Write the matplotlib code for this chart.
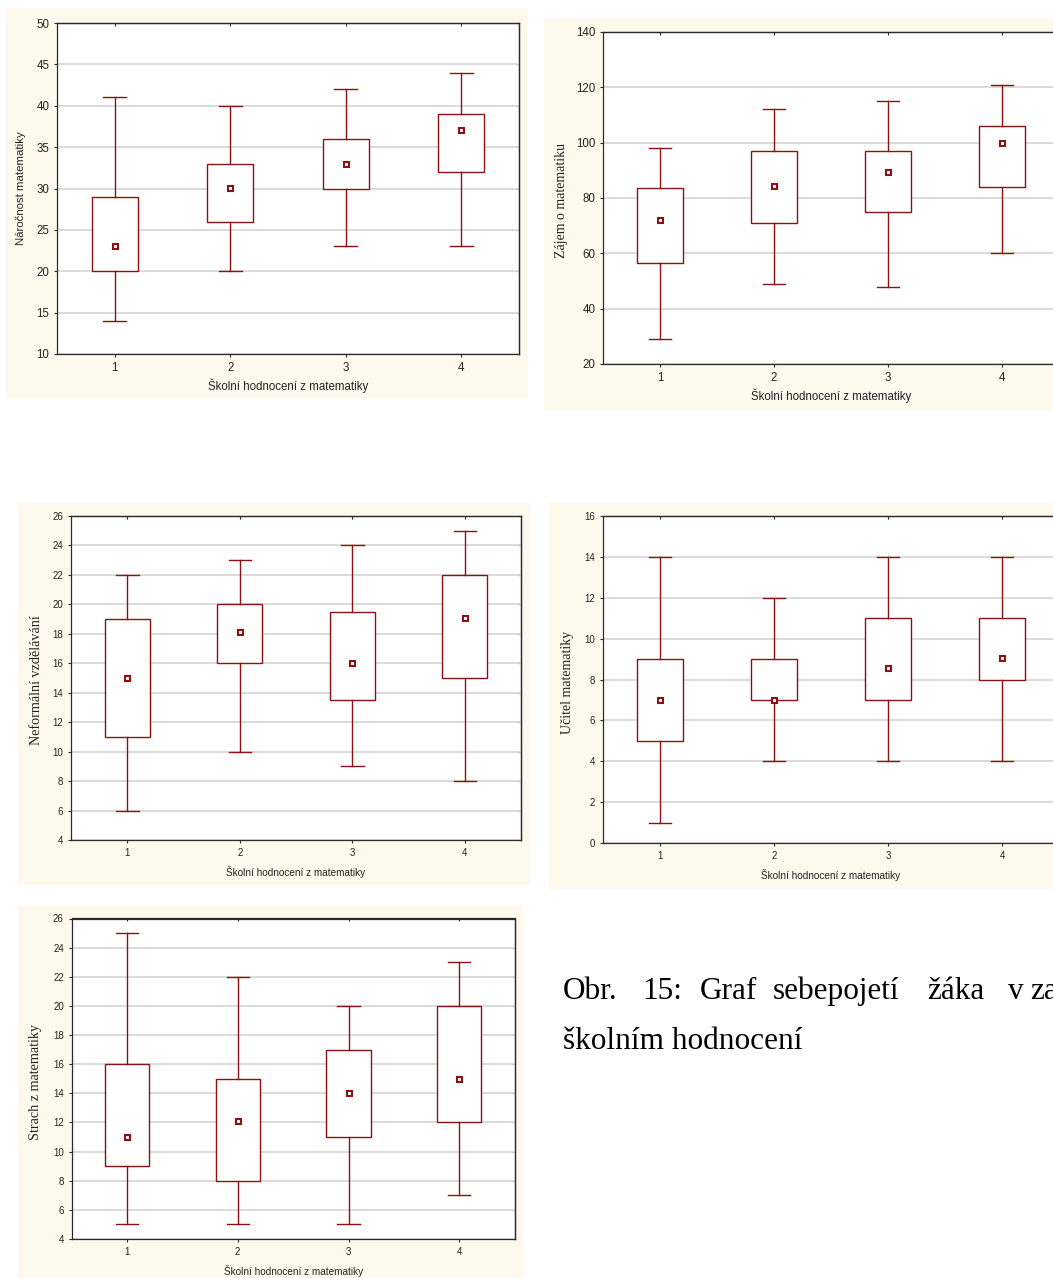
import matplotlib
matplotlib.use("Agg")
import matplotlib.pyplot as plt
from matplotlib.patches import Rectangle

# ---------------------------------------------------------------- data
grades = [1, 2, 3, 4]
grade_labels = ["1", "2", "3", "4"]
x_title = "Školní hodnocení z matematiky"

# Náročnost matematiky
narocnost_min = [14, 20, 23, 23]
narocnost_q1 = [20, 26, 30, 32]
narocnost_med = [23.1, 30.1, 33, 37.1]
narocnost_q3 = [29, 33, 36, 39]
narocnost_max = [41, 40, 42, 44]

# Zájem o matematiku
zajem_min = [29, 49, 48, 60]
zajem_q1 = [56.5, 71, 75, 84]
zajem_med = [72, 84.3, 89.3, 100]
zajem_q3 = [83.5, 97, 97, 106]
zajem_max = [98, 112, 115, 121]

# Neformální vzdělávání
neformalni_min = [6, 10, 9, 8]
neformalni_q1 = [11, 16, 13.5, 15]
neformalni_med = [15, 18.1, 16.05, 19.05]
neformalni_q3 = [19, 20, 19.5, 22]
neformalni_max = [22, 23, 24, 25]

# Učitel matematiky
ucitel_min = [1, 4, 4, 4]
ucitel_q1 = [5, 7, 7, 8]
ucitel_med = [7, 7, 8.57, 9.06]
ucitel_q3 = [9, 9, 11, 11]
ucitel_max = [14, 12, 14, 14]

# Strach z matematiky
strach_min = [5, 5, 5, 7]
strach_q1 = [9, 8, 11, 12]
strach_med = [11, 12.1, 14, 15]
strach_q3 = [16, 15, 17, 20]
strach_max = [25, 22, 20, 23]

caption_line1 = ["Obr.", "15:", "Graf", "sebepojetí", "žáka", "v", "za"]
caption_line2 = "školním hodnocení"

# ---------------------------------------------------------------- style
W, H, DPI = 1053, 1278, 100
RED = "#8b1212"
CREAM = "#fef9ec"
GRID = "#d8d8d8"
SPINE = "#2b2b2b"
SANS = "Liberation Sans"
SERIF = "Liberation Serif"

fig = plt.figure(figsize=(W / DPI, H / DPI), dpi=DPI)
fig.patch.set_facecolor("white")


def fx(x):
    return x / W


def fy(y):
    return 1 - y / H


def cream_panel(x0, y0, x1, y1):
    fig.patches.append(Rectangle((fx(x0), fy(y1)), fx(x1 - x0), (y1 - y0) / H,
                                 transform=fig.transFigure, facecolor=CREAM,
                                 edgecolor="none", zorder=0))


def box_panel(box, axes_px, lows, q1s, meds, q3s, highs, ylim, ystep,
              ylabel, ylabel_pos, ylabel_font, ylabel_size,
              xlabel_y, tick_size, xlabel_size):
    x0, y0, x1, y1 = box
    cream_panel(x0, y0, x1, y1)
    ax0, ay0, ax1, ay1 = axes_px
    ax = fig.add_axes([fx(ax0), fy(ay1), fx(ax1 - ax0), (ay1 - ay0) / H])
    ax.set_facecolor("white")
    ax.set_zorder(2)

    stats = [dict(med=m, q1=a, q3=b, whislo=lo, whishi=hi, fliers=[])
             for lo, a, m, b, hi in zip(lows, q1s, meds, q3s, highs)]
    ax.bxp(stats, positions=grades, widths=0.4, capwidths=0.2,
           showfliers=False, patch_artist=True,
           boxprops=dict(facecolor="white", edgecolor=RED, linewidth=1.0),
           whiskerprops=dict(color=RED, linewidth=1.0),
           capprops=dict(color=RED, linewidth=1.0),
           medianprops=dict(linewidth=0))
    ax.plot(grades, meds, ls="none", marker="s", ms=3.6, mfc="white",
            mec=RED, mew=1.5, zorder=6)

    ax.set_xlim(0.5, 4.5)
    ax.set_ylim(*ylim)
    yt = list(range(ylim[0], ylim[1] + 1, ystep))
    ax.set_yticks(yt)
    ax.set_xticks(grades)
    ax.set_xticklabels(grade_labels)
    ax.set_axisbelow(True)
    ax.yaxis.grid(True, color=GRID, linewidth=1.3)
    ax.xaxis.grid(False)
    for s in ax.spines.values():
        s.set_color(SPINE)
        s.set_linewidth(0.9)
    ax.tick_params(direction="out", length=2, width=0.8, pad=3.5,
                   color=SPINE, labelsize=tick_size, labelcolor="#222222")
    for lab in ax.get_xticklabels() + ax.get_yticklabels():
        lab.set_fontfamily(SANS)

    top = ax.secondary_xaxis("top")
    top.set_xticks(grades)
    top.tick_params(direction="in", length=2.5, width=0.8, color=SPINE,
                    labeltop=False)
    right = ax.secondary_yaxis("right")
    right.set_yticks(yt)
    right.tick_params(direction="in", length=2.5, width=0.8, color=SPINE,
                      labelright=False)
    for sec in (top, right):
        for s in sec.spines.values():
            s.set_color(SPINE)
            s.set_linewidth(0.9)

    fig.text(fx(ylabel_pos[0]), fy(ylabel_pos[1]), ylabel, rotation=90,
             ha="center", va="center", family=ylabel_font,
             fontsize=ylabel_size, color="#222222")
    fig.text(fx((ax0 + ax1) / 2), fy(xlabel_y), x_title, ha="center",
             va="center", family=SANS, fontsize=xlabel_size, color="#222222")
    return ax


box_panel((6, 8, 528, 399), (57, 23, 519, 354),
          narocnost_min, narocnost_q1, narocnost_med, narocnost_q3,
          narocnost_max, (10, 50), 5,
          "Náročnost matematiky", (21, 188), SANS, 8.2, 386, 8.3, 8.3)

box_panel((544, 18, 1060, 410), (603, 32, 1059, 364),
          zajem_min, zajem_q1, zajem_med, zajem_q3, zajem_max,
          (20, 140), 20,
          "Zájem o matematiku", (561, 200), SERIF, 10, 396, 8.3, 8.3)

box_panel((18, 503, 530, 885), (71, 516, 521, 840),
          neformalni_min, neformalni_q1, neformalni_med, neformalni_q3,
          neformalni_max, (4, 26), 2,
          "Neformální vzdělávání", (36, 680), SERIF, 10.2, 872, 7.0, 7.2)

box_panel((549, 503, 1060, 889), (603, 516, 1059, 843),
          ucitel_min, ucitel_q1, ucitel_med, ucitel_q3, ucitel_max,
          (0, 16), 2,
          "Učitel matematiky", (568, 682), SERIF, 10, 875, 7.0, 7.2)

box_panel((18, 905, 523, 1280), (71.5, 918.5, 514.7, 1239),
          strach_min, strach_q1, strach_med, strach_q3, strach_max,
          (4, 26), 2,
          "Strach z matematiky", (36, 1082), SERIF, 10.2, 1271, 7.0, 7.2)

# ---------------------------------------------------------------- caption
word_x = [563, 642, 700, 773, 927, 1008, 1030]
for word, x in zip(caption_line1, word_x):
    fig.text(fx(x), fy(999), word, ha="left", va="baseline",
             family=SERIF, fontsize=22.5, color="black")
fig.text(fx(563), fy(1049), caption_line2, ha="left", va="baseline",
         family=SERIF, fontsize=22.5, color="black")

fig.savefig("out.png", dpi=DPI, facecolor="white")
